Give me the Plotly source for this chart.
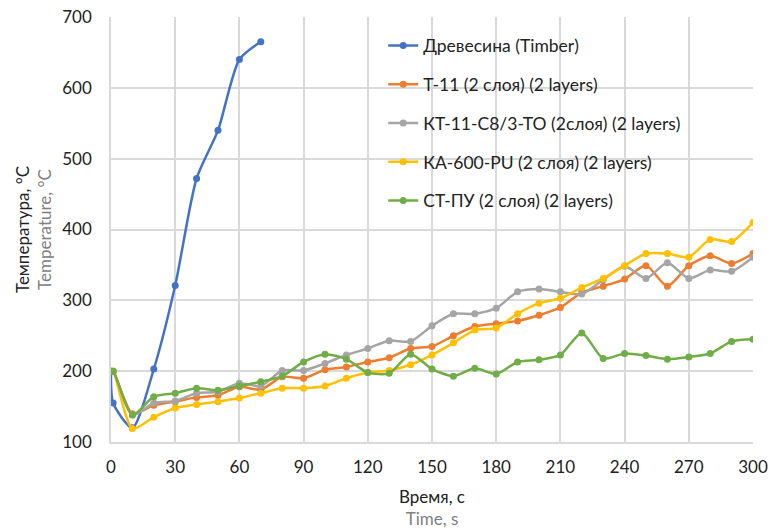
import plotly.graph_objects as go

time_wood = [0, 1, 10, 20, 30, 40, 50, 60, 70]
wood = [200, 155, 120, 203, 321, 472, 540, 640, 665]

time = [0, 1, 10, 20, 30, 40, 50, 60, 70, 80, 90, 100, 110, 120, 130, 140, 150,
        160, 170, 180, 190, 200, 210, 220, 230, 240, 250, 260, 270, 280, 290, 300]
t11 = [200, 200, 140, 152, 157, 163, 166, 178, 174, 192, 190, 202, 206, 213, 219, 232, 235,
       250, 263, 267, 271, 279, 290, 311, 320, 330, 349, 320, 349, 363, 352, 366]
kt11 = [200, 200, 138, 155, 158, 169, 171, 183, 179, 201, 201, 211, 223, 232, 243, 242, 264,
        281, 281, 289, 312, 316, 312, 309, 329, 348, 331, 353, 331, 343, 341, 361]
ka600 = [200, 200, 119, 135, 148, 153, 157, 162, 169, 176, 176, 179, 190, 198, 201, 209, 223,
         240, 258, 261, 281, 296, 303, 318, 331, 349, 366, 366, 361, 386, 383, 410]
stpu = [200, 200, 138, 164, 169, 176, 173, 179, 185, 193, 213, 224, 217, 198, 197, 224, 203,
        193, 204, 196, 213, 216, 223, 254, 218, 225, 222, 217, 220, 225, 242, 245]

names = ["Древесина (Timber)", "Т-11 (2 слоя) (2 layers)", "КТ-11-С8/3-ТО (2слоя) (2 layers)",
         "КА-600-PU (2 слоя) (2 layers)", "СТ-ПУ (2 слоя) (2 layers)"]
colors = ["#4472C4", "#ED7D31", "#A5A5A5", "#FFC000", "#70AD47"]
xs = [time_wood, time, time, time, time]
ys = [wood, t11, kt11, ka600, stpu]

fig = go.Figure()
for i, (x, y) in enumerate(zip(xs, ys)):
    fig.add_trace(go.Scatter(
        x=x, y=y, name=names[i], mode="lines+markers",
        line=dict(color=colors[i], width=2.5, shape="spline", smoothing=0.7),
        marker=dict(color=colors[i], size=7),
        legendgroup=f"g{i}",
    ))

font_family = "Lato, 'Liberation Sans', sans-serif"
fig.update_layout(
    width=771, height=531,
    margin=dict(l=111, r=18, t=17, b=89, autoexpand=False),
    paper_bgcolor="white", plot_bgcolor="white",
    font=dict(family=font_family, color="#222"),
    showlegend=True,
    legend=dict(
        x=0.424, y=0.975, xanchor="left", yanchor="top",
        font=dict(size=17.5, color="#222"),
        bgcolor="rgba(255,255,255,0)",
        tracegroupgap=13, itemwidth=30,
    ),
    xaxis=dict(
        range=[0, 300], tickvals=list(range(0, 301, 30)),
        showgrid=True, gridcolor="#D9D9D9", gridwidth=1.5,
        showline=True, linecolor="#D9D9D9", linewidth=1.5,
        zeroline=False, ticks="", tickfont=dict(size=17, color="#222"),
        ticklabelstandoff=9, ticklabeloverflow="allow", automargin=False,
        title=dict(text="Время, с<br><span style='color:#808080'>Time, s</span>",
                   font=dict(size=17, color="#222"), standoff=15),
    ),
    yaxis=dict(
        range=[100, 700], tickvals=list(range(100, 701, 100)),
        showgrid=True, gridcolor="#D9D9D9", gridwidth=1.5,
        showline=True, linecolor="#D9D9D9", linewidth=1.5,
        zeroline=False, ticks="", tickfont=dict(size=17, color="#222"),
        ticklabelstandoff=14, ticklabeloverflow="allow", automargin=False,
        title=dict(text="Температура, °C<br><span style='color:#808080'>Temperature, °C</span>",
                   font=dict(size=17, color="#222"), standoff=6),
    ),
)

fig.write_html("out.html", config={"displayModeBar": False},
               post_script="document.body.style.margin='0';")
